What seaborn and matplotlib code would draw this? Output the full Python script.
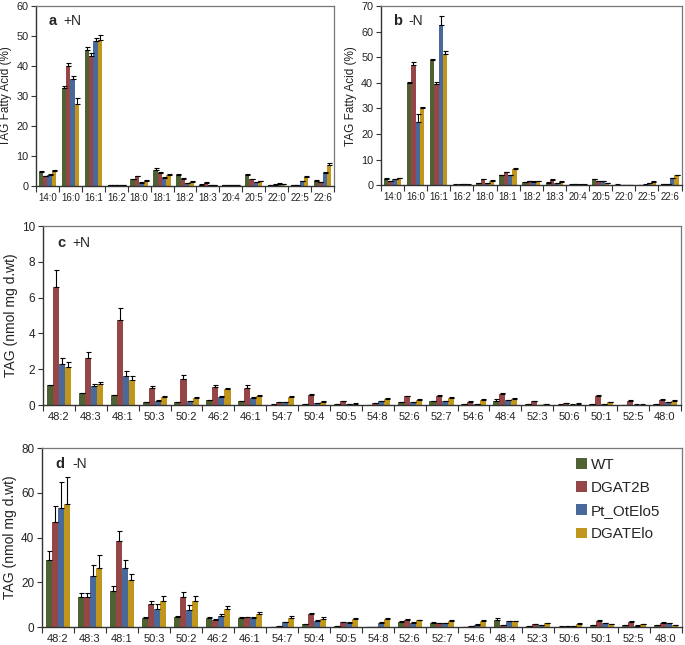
import numpy as np
import matplotlib
matplotlib.use("Agg")
import matplotlib.pyplot as plt
import pandas as pd
import seaborn as sns

sns.set_theme(style="white")
plt.rcParams['font.family'] = ['Liberation Sans', 'DejaVu Sans']

lines = ["WT", "DGAT2B", "Pt_OtElo5", "DGATElo"]
colors = ["#4f6a2b", "#a23a3a", "#3a67a6", "#dca300"]

# fatty acids (panels a, b)
fa = ["14:0", "16:0", "16:1", "16:2", "18:0", "18:1", "18:2", "18:3",
      "20:4", "20:5", "22:0", "22:5", "22:6"]
a_wt = [4.7, 32.7, 45.3, 0.2, 2.2, 5.3, 3.7, 0.5, 0.2, 3.7, 0.4, 0.4, 1.8]
a_dg = [3.2, 40.0, 43.5, 0.2, 3.2, 4.2, 2.3, 1.1, 0.3, 2.3, 0.5, 0.4, 1.3]
a_pt = [3.8, 35.8, 48.3, 0.2, 1.1, 2.7, 1.0, 0.4, 0.3, 1.4, 0.8, 1.6, 4.4]
a_el = [5.0, 27.5, 48.8, 0.2, 1.7, 3.7, 1.4, 0.2, 0.2, 1.6, 0.6, 3.1, 6.9]
a_wt_e = [0.2, 0.8, 1.2, 0.05, 0.3, 0.7, 0.4, 0.1, 0.05, 0.2, 0.1, 0.1, 0.2]
a_dg_e = [0.2, 1.0, 0.8, 0.05, 0.3, 0.4, 0.5, 0.1, 0.05, 0.2, 0.1, 0.1, 0.1]
a_pt_e = [0.2, 1.0, 1.0, 0.05, 0.1, 0.2, 0.1, 0.05, 0.05, 0.1, 0.1, 0.1, 0.2]
a_el_e = [0.3, 2.0, 1.6, 0.05, 0.3, 0.3, 0.2, 0.05, 0.05, 0.2, 0.1, 0.2, 0.8]

b_wt = [2.5, 40.0, 49.0, 0.2, 0.8, 3.8, 1.3, 1.0, 0.2, 2.4, 0.2, 0.1, 0.5]
b_dg = [1.5, 47.0, 39.5, 0.2, 2.3, 5.0, 1.5, 2.1, 0.3, 1.6, 0.1, 0.2, 0.3]
b_pt = [2.3, 24.5, 62.7, 0.3, 0.7, 3.8, 1.4, 0.9, 0.2, 1.6, 0.1, 0.7, 2.7]
b_el = [2.7, 30.2, 51.3, 0.2, 1.7, 6.2, 1.6, 1.4, 0.2, 0.8, 0.1, 1.4, 3.8]
b_wt_e = [0.2, 0.4, 0.4, 0.05, 0.1, 0.2, 0.1, 0.1, 0.05, 0.1, 0.05, 0.05, 0.1]
b_dg_e = [0.1, 1.2, 1.0, 0.05, 0.2, 0.2, 0.1, 0.2, 0.05, 0.1, 0.05, 0.05, 0.05]
b_pt_e = [0.2, 3.5, 3.3, 0.05, 0.1, 0.2, 0.1, 0.1, 0.05, 0.1, 0.05, 0.1, 0.2]
b_el_e = [0.2, 0.5, 1.0, 0.05, 0.2, 0.3, 0.1, 0.2, 0.05, 0.1, 0.05, 0.2, 0.2]

# TAG species (panels c, d)
tag = ["48:2", "48:3", "48:1", "50:3", "50:2", "46:2", "46:1", "54:7", "50:4", "50:5",
       "54:8", "52:6", "52:7", "54:6", "48:4", "52:3", "50:6", "50:1", "52:5", "48:0"]
c_wt = [1.1, 0.65, 0.55, 0.15, 0.15, 0.28, 0.2, 0.03, 0.07, 0.05,
        0.02, 0.15, 0.22, 0.05, 0.22, 0.05, 0.03, 0.07, 0.02, 0.05]
c_dg = [6.6, 2.65, 4.75, 0.95, 1.45, 1.02, 0.98, 0.17, 0.55, 0.22,
        0.12, 0.48, 0.5, 0.18, 0.6, 0.22, 0.1, 0.48, 0.25, 0.3]
c_pt = [2.3, 1.05, 1.6, 0.25, 0.22, 0.45, 0.42, 0.17, 0.12, 0.07,
        0.22, 0.15, 0.2, 0.07, 0.28, 0.02, 0.03, 0.07, 0.03, 0.15]
c_el = [2.15, 1.2, 1.4, 0.45, 0.42, 0.9, 0.5, 0.45, 0.17, 0.07,
        0.36, 0.3, 0.42, 0.3, 0.33, 0.05, 0.08, 0.15, 0.03, 0.25]
c_wt_e = [0.03, 0.03, 0.03, 0.02, 0.02, 0.02, 0.02, 0.01, 0.01, 0.01,
          0.01, 0.02, 0.03, 0.01, 0.1, 0.01, 0.01, 0.01, 0.01, 0.01]
c_dg_e = [0.95, 0.3, 0.7, 0.1, 0.25, 0.1, 0.12, 0.02, 0.04, 0.03,
          0.02, 0.05, 0.05, 0.03, 0.05, 0.03, 0.02, 0.06, 0.03, 0.04]
c_pt_e = [0.35, 0.15, 0.3, 0.03, 0.03, 0.04, 0.03, 0.02, 0.02, 0.01,
          0.02, 0.02, 0.03, 0.01, 0.03, 0.01, 0.01, 0.01, 0.01, 0.02]
c_el_e = [0.25, 0.07, 0.2, 0.07, 0.05, 0.07, 0.07, 0.04, 0.03, 0.02,
          0.04, 0.03, 0.04, 0.03, 0.04, 0.01, 0.02, 0.02, 0.01, 0.05]

d_wt = [30, 13.5, 16.3, 4.0, 4.3, 4.1, 4.0, 0.1, 1.3, 0.5,
        0.05, 2.3, 1.9, 0.1, 3.2, 0.3, 0.2, 0.9, 0.8, 0.7]
d_dg = [47, 13.5, 38.5, 10.2, 13.5, 3.2, 4.3, 0.5, 5.6, 2.1,
        0.1, 3.2, 1.7, 0.3, 0.8, 1.2, 0.3, 2.7, 2.2, 2.0]
d_pt = [53, 22.7, 26.3, 8.2, 7.8, 5.0, 4.2, 2.1, 2.8, 2.0,
        2.0, 2.0, 1.7, 1.0, 2.6, 0.9, 0.5, 1.7, 0.6, 1.7]
d_el = [55, 26.5, 21.2, 11.8, 11.5, 8.2, 5.8, 4.2, 3.8, 3.4,
        3.5, 3.0, 2.9, 2.7, 2.5, 1.7, 1.5, 1.3, 1.2, 0.9]
d_wt_e = [4, 1.5, 2.2, 0.5, 0.6, 0.5, 0.3, 0.05, 0.2, 0.1,
          0.05, 0.3, 0.2, 0.05, 1.0, 0.1, 0.05, 0.2, 0.1, 0.1]
d_dg_e = [7, 1.8, 4.5, 1.3, 2.3, 0.3, 0.3, 0.1, 0.5, 0.3,
          0.05, 0.5, 0.2, 0.1, 0.1, 0.2, 0.1, 0.4, 0.3, 0.3]
d_pt_e = [12, 5, 3.5, 2, 2, 0.8, 0.4, 0.3, 0.3, 0.3,
          0.4, 0.3, 0.3, 0.2, 0.3, 0.1, 0.1, 0.2, 0.1, 0.2]
d_el_e = [12, 5.5, 2.7, 2, 2.2, 1.3, 1, 0.5, 0.5, 0.5,
          0.4, 0.3, 0.4, 0.4, 0.3, 0.3, 0.2, 0.2, 0.2, 0.1]


def long_df(cats, vals, errs):
    rows = []
    for line, v, e in zip(lines, vals, errs):
        for c, vv, ee in zip(cats, v, e):
            rows.append((c, line, vv, ee))
    return pd.DataFrame(rows, columns=["cat", "line", "val", "err"])


def panel(ax, cats, vals, errs, ymax, ystep, ylabel, letter, cond,
          xfs, yfs, lfs, lab_off, legend=False):
    df = long_df(cats, vals, errs)
    sns.barplot(data=df, x="cat", y="val", hue="line", hue_order=lines,
                palette=colors, width=0.76, errorbar=None, ax=ax,
                edgecolor="none", legend=legend)
    # upward error bars
    bars = list(ax.containers)
    for k, cont in enumerate(bars):
        e = errs[k]
        for j, bar in enumerate(cont):
            x = bar.get_x() + bar.get_width() / 2
            ax.errorbar(x, bar.get_height(), yerr=[[0], [e[j]]], fmt="none",
                        ecolor="black", elinewidth=0.8, capsize=1.8, capthick=0.8)
    n = len(cats)
    ax.set_xlim(-0.5, n - 0.5)
    ax.set_ylim(0, ymax)
    ax.set_yticks(np.arange(0, ymax + 0.01, ystep))
    ax.set_xticks(np.arange(n))
    ax.set_xticklabels(cats)
    ax.set_xticks(np.arange(n + 1) - 0.5, minor=True)
    ax.tick_params(axis="x", which="major", length=0, labelsize=xfs, pad=5,
                   labelcolor="#222222")
    ax.tick_params(axis="x", which="minor", length=4, width=0.8, direction="out",
                   color="#333333", bottom=True)
    ax.tick_params(axis="y", length=3.5, width=0.8, direction="out", labelsize=yfs,
                   color="#333333", left=True, pad=2, labelcolor="#222222")
    ax.set_xlabel("")
    ax.set_ylabel(ylabel, fontsize=lfs, color="#222222", labelpad=3)
    for s in ["left", "bottom"]:
        ax.spines[s].set_color("#333333")
        ax.spines[s].set_linewidth(1.0)
    for s in ["top", "right"]:
        ax.spines[s].set_color("#777777")
        ax.spines[s].set_linewidth(0.9)
    ax.annotate(letter, xy=(0, 1), xycoords="axes fraction",
                xytext=(lab_off[0], lab_off[2]), textcoords="offset points",
                fontsize=10.5, fontweight="bold", va="center")
    ax.annotate(cond, xy=(0, 1), xycoords="axes fraction",
                xytext=(lab_off[1], lab_off[2]), textcoords="offset points",
                fontsize=10, va="center")


fig = plt.figure(figsize=(6.85, 6.45), dpi=100)
ax_a = fig.add_axes([0.0526, 0.7116, 0.435, 0.279])
ax_b = fig.add_axes([0.556, 0.713, 0.439, 0.2775])
ax_c = fig.add_axes([0.0628, 0.372, 0.931, 0.2775])
ax_d = fig.add_axes([0.0613, 0.0279, 0.934, 0.2775])

panel(ax_a, fa, [a_wt, a_dg, a_pt, a_el], [a_wt_e, a_dg_e, a_pt_e, a_el_e],
      60, 10, "TAG Fatty Acid (%)", "a", "+N", 7, 7.8, 8.5, (9, 20, -10.5))
panel(ax_b, fa, [b_wt, b_dg, b_pt, b_el], [b_wt_e, b_dg_e, b_pt_e, b_el_e],
      70, 10, "TAG Fatty Acid (%)", "b", "-N", 7, 7.8, 8.5, (8.5, 19.5, -10.5))
panel(ax_c, tag, [c_wt, c_dg, c_pt, c_el], [c_wt_e, c_dg_e, c_pt_e, c_el_e],
      10, 2, "TAG (nmol mg d.wt)", "c", "+N", 8, 8.5, 10, (10, 21, -12))
panel(ax_d, tag, [d_wt, d_dg, d_pt, d_el], [d_wt_e, d_dg_e, d_pt_e, d_el_e],
      80, 20, "TAG (nmol mg d.wt)", "d", "-N", 8, 8.5, 10, (9.5, 22, -11.5),
      legend=True)

ax_d.legend(loc="upper left", bbox_to_anchor=(0.825, 0.98), frameon=False,
            fontsize=11, handlelength=0.7, handleheight=0.7, handletextpad=0.3,
            labelspacing=0.6, borderaxespad=0)

fig.savefig("out.png", dpi=100)
